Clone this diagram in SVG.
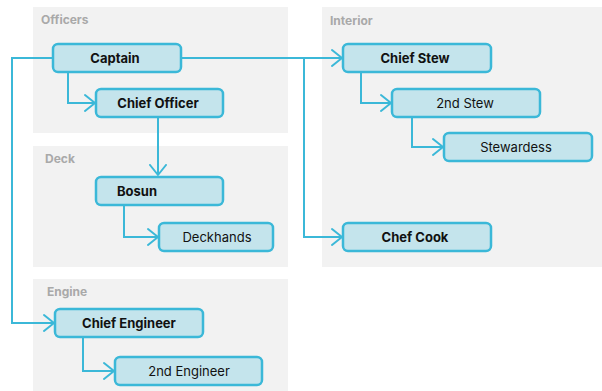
<svg xmlns="http://www.w3.org/2000/svg" width="602" height="391" viewBox="0 0 602 391">
<style>
.grp{fill:#f2f2f2}
.gl{font-family:Inter,"Liberation Sans",sans-serif;font-size:12px;font-weight:700;fill:#a9a9a9}
.node rect{fill:#c4e4ec;stroke:#3bb8d8;stroke-width:2.5}
.node text{font-family:Inter,"Liberation Sans",sans-serif;font-size:13px;fill:#111;text-anchor:middle;dominant-baseline:central}
.b text{font-weight:700}
.edge{fill:none;stroke:#3bb8d8;stroke-width:2;marker-end:url(#ah)}
</style>
<defs>
<marker id="ah" markerUnits="userSpaceOnUse" markerWidth="14" markerHeight="20" refX="11" refY="10" orient="auto">
<path d="M1,2 L11,10 L1,18" fill="none" stroke="#3bb8d8" stroke-width="2" stroke-linecap="round" stroke-linejoin="round"/>
</marker>
</defs>
<rect width="602" height="391" fill="#fff"/>
<g id="groups">
<rect class="grp" x="33" y="7" width="255" height="126"/>
<text class="gl" x="41" y="24">Officers</text>
<rect class="grp" x="33" y="146" width="255" height="121"/>
<text class="gl" x="45" y="163">Deck</text>
<rect class="grp" x="33" y="279" width="255" height="112"/>
<text class="gl" x="47" y="296">Engine</text>
<rect class="grp" x="322" y="7" width="280" height="260"/>
<text class="gl" x="330" y="25">Interior</text>
</g>
<g id="connectors">
<path class="edge" d="M68,72 V103 H95"/>
<path class="edge" d="M181,58 H342"/>
<path class="edge" d="M181,58 H304 V237 H342"/>
<path class="edge" d="M53,58 H12 V323 H54"/>
<path class="edge" d="M158,118 V175"/>
<path class="edge" d="M124,205 V237 H158"/>
<path class="edge" d="M361,72 V103 H391"/>
<path class="edge" d="M412,118 V147 H443"/>
<path class="edge" d="M83,337 V371 H114"/>
</g>
<g id="captain" class="node b"><rect x="53" y="44" width="128" height="28" rx="5"/><text x="115" y="58">Captain</text></g>
<g id="chief-officer" class="node b"><rect x="96" y="89" width="127" height="28" rx="5"/><text x="158" y="103">Chief Officer</text></g>
<g id="bosun" class="node b"><rect x="96" y="177" width="127" height="28" rx="5"/><text x="137" y="191">Bosun</text></g>
<g id="deckhands" class="node"><rect x="159" y="223" width="114" height="28" rx="5"/><text x="217" y="237">Deckhands</text></g>
<g id="chief-engineer" class="node b"><rect x="55" y="309" width="148" height="28" rx="5"/><text x="129" y="323">Chief Engineer</text></g>
<g id="second-engineer" class="node"><rect x="115" y="357" width="147" height="28" rx="5"/><text x="189" y="371">2nd Engineer</text></g>
<g id="chief-stew" class="node b"><rect x="343" y="44" width="148" height="28" rx="5"/><text x="415" y="58">Chief Stew</text></g>
<g id="second-stew" class="node"><rect x="392" y="89" width="148" height="28" rx="5"/><text x="465" y="103">2nd Stew</text></g>
<g id="stewardess" class="node"><rect x="444" y="133" width="148" height="28" rx="5"/><text x="516" y="147">Stewardess</text></g>
<g id="chef-cook" class="node b"><rect x="343" y="223" width="148" height="28" rx="5"/><text x="415" y="237">Chef Cook</text></g>
</svg>
